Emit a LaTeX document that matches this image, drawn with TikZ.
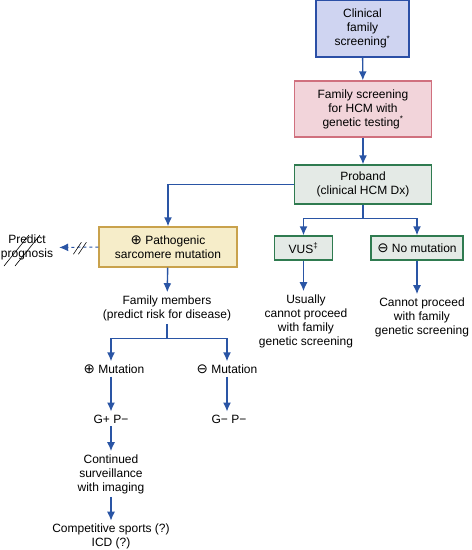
\documentclass[tikz,border=0pt]{standalone}
\usepackage{fontspec}
\setmainfont{Liberation Sans}
\newfontfamily\symfont{DejaVu Sans}
\usepackage{xcolor}
\usetikzlibrary{arrows.meta,positioning,calc}

\definecolor{arrblue}{HTML}{2A55A5}
\definecolor{clinfill}{HTML}{CFD4F1}
\definecolor{clinline}{HTML}{2B4FA6}
\definecolor{genfill}{HTML}{F2D4DA}
\definecolor{genline}{HTML}{D0707E}
\definecolor{probfill}{HTML}{E4EAE6}
\definecolor{probline}{HTML}{2F7B50}
\definecolor{patfill}{HTML}{F6EDC9}
\definecolor{patline}{HTML}{C9A24C}

\newcommand{\oplussym}{{\fontsize{13.5}{14}\symfont\char"2295}}
\newcommand{\ominussym}{{\fontsize{13.5}{14}\symfont\char"2296}}

\begin{document}
\begin{tikzpicture}[
  x=1pt, y=-1pt,
  font=\fontsize{12}{14}\selectfont,
  box/.style={draw, line width=1.3pt, align=center, inner sep=0pt},
  txt/.style={align=center, inner sep=3pt},
  arr/.style={-{Latex[length=9pt,width=8pt]}, line width=1.4pt, arrblue},
  link/.style={line width=1.4pt, arrblue},
  strike/.style={black, line width=0.6pt}
]
  \useasboundingbox (0,0) rectangle (472,550);

  % screening boxes
  \node[box, draw=clinline, fill=clinfill, minimum width=93pt, minimum height=57pt] (clin) at (362.5,28.5) {Clinical\\family\\screening\textsuperscript{*}};
  \node[box, draw=genline, fill=genfill, minimum width=137pt, minimum height=56pt] (gen) at (363,109) {Family screening\\for HCM with\\genetic testing\textsuperscript{*}};
  \node[box, draw=probline, fill=probfill, minimum width=137pt, minimum height=39pt] (prob) at (363,184.5) {Proband\\(clinical HCM Dx)};

  % result boxes
  \node[box, draw=patline, fill=patfill, minimum width=138pt, minimum height=40pt] (patho) at (168,247) {\oplussym\ Pathogenic\\sarcomere mutation};
  \node[box, draw=probline, fill=probfill, minimum width=58pt, minimum height=24pt] (vus) at (303.5,248) {VUS\textsuperscript{‡}};
  \node[box, draw=probline, fill=probfill, minimum width=92pt, minimum height=24pt] (nomut) at (417,248) {\ominussym\ No mutation};

  % plain texts
  \node[txt] (prog) at (27,247.5) {Predict\\prognosis};
  \node[txt] (usual) at (306,321) {Usually\\cannot proceed\\with family\\genetic screening};
  \node[txt] (cannot) at (422,317) {Cannot proceed\\with family\\genetic screening};
  \node[txt] (fam) at (167,308) {Family members\\(predict risk for disease)};
  \node[txt] (posmut) at (114,369) {\oplussym\ Mutation};
  \node[txt] (negmut) at (227,369) {\ominussym\ Mutation};
  \node[txt] (gpp) at (111,419) {G+ P−};
  \node[txt] (gnp) at (229,419) {G− P−};
  \node[txt] (surv) at (111,474) {Continued\\surveillance\\with imaging};
  \node[txt] (sport) at (111,536.5) {Competitive sports (?)\\ICD (?)};

  % connectors
  \draw[arr] (clin) -- (gen);
  \draw[arr] (gen) -- (prob);
  \draw[arr] (prob.west) -| (patho.north);
  \draw[link] (prob.south) -- ++(0,14) coordinate (split);
  \draw[arr] (split) -| (vus.north);
  \draw[arr] (split) -| (nomut.north);
  \draw[arr] (vus.south) -- (vus.south |- usual.north);
  \draw[arr] (nomut.south) -- (nomut.south |- cannot.north);
  \draw[arr] (patho) -- (fam);
  \draw[link] (fam.south) -- ++(0,15) coordinate (famsplit);
  \draw[arr] (famsplit) -| (gpp |- posmut.north);
  \draw[arr] (famsplit) -| (negmut.north);
  \draw[arr] (gpp |- posmut.south) -- (gpp.north);
  \draw[arr] (negmut) -- (negmut |- gnp.north);
  \draw[arr] (gpp) -- (surv);
  \draw[arr] (surv) -- (sport);

  % dashed, broken link to prognosis
  \draw[arr, dashed, line width=1pt, shorten >=3pt] (patho.west) -- (prog.east) coordinate[pos=0.45] (brk);
  \draw[strike] ($(brk)+(-6,7)$) -- ++(8,-12);
  \draw[strike] ($(brk)+(-1,7)$) -- ++(8,-12);

  % prognosis crossed out
  \draw[strike] ($(prog)+(-23,18.5)$) -- ++(25,-31);
  \draw[strike] ($(prog)+(-12,18.5)$) -- ++(25,-31);
\end{tikzpicture}
\end{document}
